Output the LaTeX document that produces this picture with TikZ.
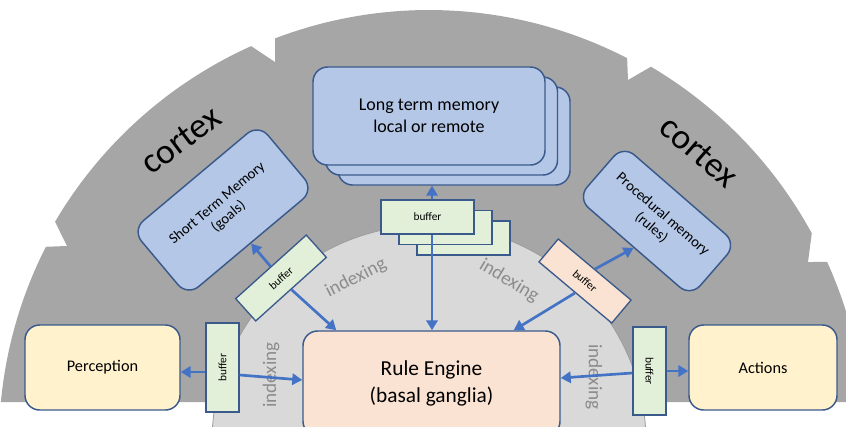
\documentclass[tikz,border=0pt]{standalone}
\usepackage{fontspec}
\setmainfont{Carlito}
\usetikzlibrary{arrows.meta,calc}

\definecolor{cortexgray}{HTML}{A6A6A6}
\definecolor{innergray}{HTML}{D9D9D9}
\definecolor{innerline}{HTML}{9C9C9C}
\definecolor{memfill}{HTML}{B4C7E7}
\definecolor{edgeblue}{HTML}{3A5A8C}
\definecolor{rulefill}{HTML}{FBE3D3}
\definecolor{iofill}{HTML}{FFF2CC}
\definecolor{buffill}{HTML}{E2F0D9}
\definecolor{arrowblue}{HTML}{4472C4}
\definecolor{idxgray}{HTML}{8C8C8C}

\begin{document}
\begin{tikzpicture}[x=0.75pt,y=-0.75pt,
  box/.style={draw=edgeblue, line width=1.1pt, rounded corners=11pt, align=center, inner sep=2pt},
  mem/.style={box, fill=memfill},
  io/.style={box, fill=iofill, minimum height=63.75pt, font=\fontsize{12.2}{14}\selectfont},
  buf/.style={draw=edgeblue, line width=1pt, fill=buffill, inner sep=0pt,
              minimum width=71.25pt, minimum height=22.5pt, font=\fontsize{8.5}{10}\selectfont},
  link/.style={draw=arrowblue, line width=2pt, -{Triangle[length=7.5pt,width=8.5pt]}},
  idx/.style={text=idxgray, inner sep=0pt, font=\fontsize{14.4}{16}\selectfont},
  ctx/.style={inner sep=0pt, font=\fontsize{26.6}{30}\selectfont}
]
\useasboundingbox (0,0) rectangle (846,426);
\clip (0,0) rectangle (846,426);

% centre of the two half discs
\coordinate (C) at (429,442);

% cortex: notched outer half disc
\fill[cortexgray]
  ($(C)+(-174.66:430)$) arc[start angle=-174.66, end angle=-153, radius=430]
  -- (67,246)
  -- ($(C)+(-149.5:434)$) arc[start angle=-149.5, end angle=-114.2, radius=434]
  -- (275,62)
  -- ($(C)+(-110.87:432)$) arc[start angle=-110.87, end angle=-62.7, radius=432]
  -- (628,80)
  -- ($(C)+(-59.4:436)$) arc[start angle=-59.4, end angle=-28.6, radius=436]
  -- (808,262)
  -- ($(C)+(-24.33:437)$) arc[start angle=-24.33, end angle=-5.25, radius=437]
  -- cycle;

% inner region
\draw[fill=innergray, draw=innerline, line width=0.6pt] (C) circle[radius=217];

% region labels
\node[ctx, rotate=37] (cx1) at (181,140) {cortex};
\node[ctx, rotate=-41] (cx2) at (699,152) {cortex};
\node[idx, rotate=27] (ix1) at (356,278) {indexing};
\node[idx, rotate=-31] (ix2) at (509,281) {indexing};
\node[idx, rotate=90] (ix3) at (271,375) {indexing};
\node[idx, rotate=-90] (ix4) at (594,377) {indexing};

% long term memory stack
\node[mem, minimum width=174pt, minimum height=73.5pt] (ltm3) at (454,136) {};
\node[mem, minimum width=174pt, minimum height=73.5pt] (ltm2) at (441.5,126) {};
\node[mem, minimum width=174pt, minimum height=73.5pt,
      font=\fontsize{13.5}{16.5}\selectfont] (ltm) at (429,116) {Long term memory\\local or remote};

% short term and procedural memory
\node[mem, rotate=40, minimum width=123.75pt, minimum height=64.5pt,
      font=\fontsize{11}{13}\selectfont] (stm) at (223,210) {Short Term Memory\\(goals)};
\node[mem, rotate=-41, minimum width=112.5pt, minimum height=52.5pt,
      font=\fontsize{11}{13}\selectfont] (proc) at (657,221) {Procedural memory\\(rules)};

% rule engine
\node[box, fill=rulefill, minimum width=192.75pt, minimum height=78.75pt,
      font=\fontsize{16}{20}\selectfont] (rule) at (431.5,383.5) {Rule Engine\\(basal ganglia)};

% perception and actions
\node[io, minimum width=116.25pt] (perc) at (102.5,367.5) {Perception};
\node[io, minimum width=111pt] (act) at (763,367.5) {Actions};

% buffers
\node[buf, minimum width=69.75pt, minimum height=25.5pt] (bufT3) at (463.5,238) {};
\node[buf, minimum width=69.75pt, minimum height=25.5pt] (bufT2) at (445.5,227.5) {};
\node[buf, minimum width=69.75pt, minimum height=25.5pt] (bufT) at (427.5,217) {buffer};
\node[buf, rotate=42] (bufL) at (281,278) {buffer};
\node[buf, rotate=-40, fill=rulefill] (bufR) at (585,281) {buffer};
\node[buf, rotate=90, minimum width=66.75pt, minimum height=24.75pt] (bufPL) at (222.5,367.5) {buffer};
\node[buf, rotate=-90, minimum width=66pt, minimum height=24.75pt] (bufPA) at (649.5,371) {buffer};

% connectors
\coordinate (tx) at ($(bufT.north)+(4.5,0)$);
\draw[link] (tx) -- (tx |- ltm3.south);
\draw[link] (tx |- bufT.south) -- (tx |- rule.north);
\draw[link] (bufL.north) -- (stm.south);
\draw[link] (bufL.south) -- ($(rule.north west)+(34,0)$);
\draw[link] (bufR.north) -- (proc.south);
\draw[link] (bufR.south) -- ($(rule.north east)+(-47,0)$);
\draw[link] ($(bufPL.north)+(0,4.5)$) -- ($(perc.east)+(0,4.5)$);
\draw[link] ($(bufPL.south)+(0,7.5)$) -- ($(rule.west)+(0,-3.5)$);
\draw[link] (bufPA.north) -- ($(act.west)+(0,3.5)$);
\draw[link] ($(bufPA.south)+(0,2)$) -- ($(rule.east)+(0,-5.5)$);
\end{tikzpicture}
\end{document}
